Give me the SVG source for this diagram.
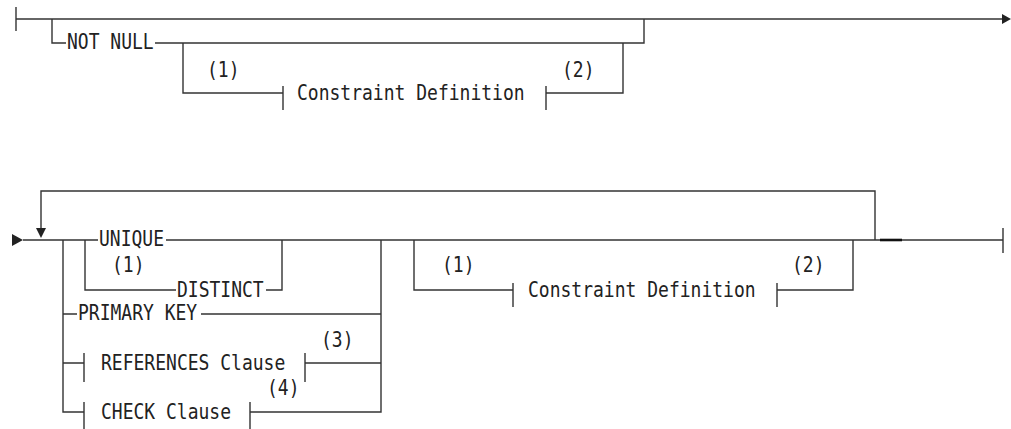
<svg xmlns="http://www.w3.org/2000/svg" width="1011" height="429" viewBox="0 0 1011 429">
<style>
.ln{fill:none;stroke:#333;stroke-width:1.4}
.bar{fill:none;stroke:#333;stroke-width:1.4}
.ah{fill:#222;stroke:none}
text{font-family:"DejaVu Sans Mono","Liberation Mono",monospace;font-size:21px;fill:#222}
</style>
<rect width="1011" height="429" fill="#fff"/>
<g id="connectors">
  <!-- top diagram -->
  <path class="bar" d="M16 7V31"/>
  <path class="ln" d="M16 19H1003"/>
  <polygon class="ah" points="1002,14 1011,19 1002,24"/>
  <path class="ln" d="M52 19V43H66M155 43H644V19"/>
  <path class="ln" d="M183 43V93H283M546 93H623V43"/>
  <!-- bottom diagram -->
  <polygon class="ah" points="12,234 23,240 12,246"/>
  <path class="ln" d="M23 240H98M166 240H1003"/>
  <path class="bar" d="M1003 228V253"/>
  <path class="ln" d="M875 240V191H41V230"/>
  <polygon class="ah" points="36,228 46,228 41,238"/>
  <path d="M880 240H902" stroke="#111" stroke-width="2.6"/>
  <path class="ln" d="M63 240V412H84M381 240V412H250"/>
  <path class="ln" d="M85 240V290H176M266 290H282V240"/>
  <path class="ln" d="M63 314H77M201 314H381"/>
  <path class="ln" d="M63 363H84M305 363H381"/>
  <path class="ln" d="M414 240V290H513M777 290H853V240"/>
</g>
<g id="n-notnull"><text x="67" y="49" textLength="86.7" lengthAdjust="spacingAndGlyphs">NOT NULL</text></g>
<g id="n-constraint1">
  <path class="bar" d="M283 86V110M546 86V110"/>
  <text x="297" y="100" textLength="227.6" lengthAdjust="spacingAndGlyphs">Constraint Definition</text>
  <text x="207" y="77" textLength="32.5" lengthAdjust="spacingAndGlyphs">(1)</text>
  <text x="562" y="77" textLength="32.5" lengthAdjust="spacingAndGlyphs">(2)</text>
</g>
<g id="n-unique">
  <text x="99" y="246" textLength="65" lengthAdjust="spacingAndGlyphs">UNIQUE</text>
  <text x="112" y="272" textLength="32.5" lengthAdjust="spacingAndGlyphs">(1)</text>
</g>
<g id="n-distinct"><text x="177" y="297" textLength="86.7" lengthAdjust="spacingAndGlyphs">DISTINCT</text></g>
<g id="n-primary"><text x="78" y="320" textLength="119.2" lengthAdjust="spacingAndGlyphs">PRIMARY KEY</text></g>
<g id="n-references">
  <path class="bar" d="M84 353V382M305 353V382"/>
  <text x="101" y="370" textLength="184.3" lengthAdjust="spacingAndGlyphs">REFERENCES Clause</text>
  <text x="321" y="347" textLength="32.5" lengthAdjust="spacingAndGlyphs">(3)</text>
</g>
<g id="n-check">
  <path class="bar" d="M84 402V429M250 402V429"/>
  <text x="101" y="419" textLength="130" lengthAdjust="spacingAndGlyphs">CHECK Clause</text>
  <text x="267" y="395" textLength="32.5" lengthAdjust="spacingAndGlyphs">(4)</text>
</g>
<g id="n-constraint2">
  <path class="bar" d="M513 283V307M777 283V307"/>
  <text x="528" y="297" textLength="227.6" lengthAdjust="spacingAndGlyphs">Constraint Definition</text>
  <text x="442" y="272" textLength="32.5" lengthAdjust="spacingAndGlyphs">(1)</text>
  <text x="792" y="272" textLength="32.5" lengthAdjust="spacingAndGlyphs">(2)</text>
</g>
</svg>
